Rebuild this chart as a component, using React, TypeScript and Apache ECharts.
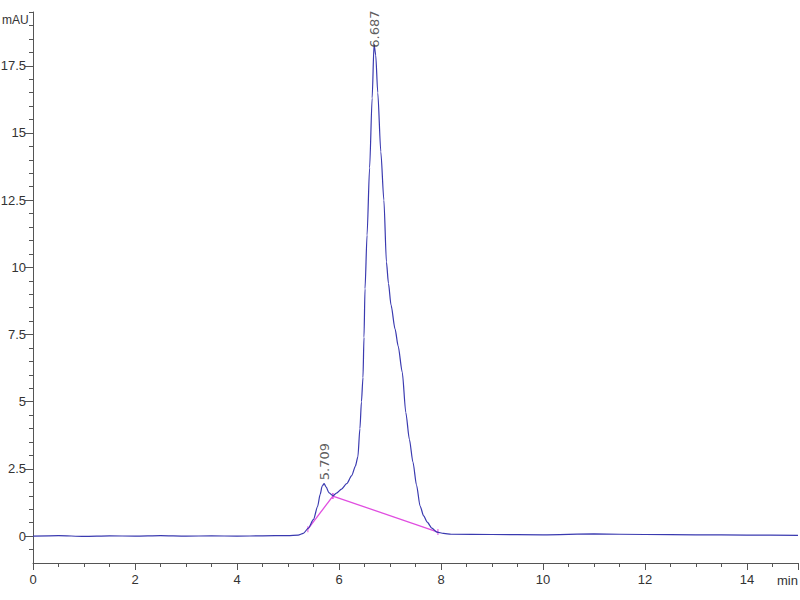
import React, { useEffect, useRef } from "react";
import * as echarts from "echarts";

// Chromatogram signal (time in min, absorbance in mAU)
const signal: [number, number][] = [
  [0, 0.0], [0.5, 0.02], [1, -0.01], [1.5, 0.01], [2, 0.0], [2.5, 0.02], [3, 0.0],
  [3.5, 0.01], [4, 0.0], [4.5, 0.01], [5.0, 0.02], [5.2, 0.04], [5.3, 0.1],
  [5.4, 0.3], [5.5, 0.62], [5.58, 1.1], [5.63, 1.55], [5.67, 1.86], [5.709, 1.95],
  [5.75, 1.82], [5.8, 1.62], [5.88, 1.5], [5.95, 1.6], [6.05, 1.75], [6.15, 1.95],
  [6.25, 2.25], [6.32, 2.6], [6.37, 2.95], [6.41, 4.0], [6.44, 5.0], [6.47, 5.9],
  [6.49, 7.4], [6.51, 9.2], [6.55, 11.2], [6.6, 13.7], [6.65, 16.3], [6.687, 18.3],
  [6.72, 17.9], [6.76, 16.5], [6.82, 14.3], [6.88, 12.5], [6.93, 10.2], [6.97, 9.4],
  [7.02, 8.6], [7.1, 7.7], [7.16, 7.07], [7.24, 6.1], [7.31, 4.6], [7.38, 3.6],
  [7.45, 2.75], [7.52, 1.9], [7.59, 1.12], [7.66, 0.75], [7.73, 0.52], [7.82, 0.3],
  [7.92, 0.15], [8.05, 0.1], [8.2, 0.07], [9, 0.06], [10, 0.05], [11, 0.08],
  [12, 0.06], [13, 0.05], [14, 0.04], [15, 0.03],
];

// Integration baselines
const baseline1: [number, number][] = [[5.39, 0.26], [5.88, 1.49]];
const baseline2: [number, number][] = [[5.88, 1.49], [7.94, 0.15]];

// Peak apexes (retention times)
const peaks: [number, number][] = [[5.709, 1.95], [6.687, 18.3]];
const peakLabelDistance = [3, -4];

const xMin = 0;
const xMax = 15;
const xInterval = 2;
const yMin = -1;
const yMax = 19.5;
const yLabelValues = [0, 2.5, 5, 7.5, 10, 12.5, 15, 17.5];

const FONT = "'Liberation Sans', Arial, sans-serif";

export default function App() {
  const ref = useRef<HTMLDivElement>(null);

  useEffect(() => {
    if (!ref.current) return;
    const chart = echarts.init(ref.current, undefined, { renderer: "svg" });

    const yMinorValues: number[] = [];
    for (let v = -0.5; v <= yMax + 1e-9; v += 0.5) yMinorValues.push(Math.round(v * 10) / 10);

    const axisColor = "#555";

    chart.setOption({
      animation: false,
      backgroundColor: "#ffffff",
      grid: {
        left: 33,
        right: 2,
        top: 12,
        bottom: 37,
        containLabel: false,
        outerBoundsMode: "none",
      },
      xAxis: {
        type: "value",
        min: xMin,
        max: xMax,
        interval: xInterval,
        axisLine: { show: true, onZero: false, lineStyle: { color: axisColor, width: 1 } },
        axisTick: { show: true, length: 7, lineStyle: { color: axisColor } },
        minorTick: { show: true, splitNumber: 4, length: 4, lineStyle: { color: axisColor } },
        splitLine: { show: false },
        axisLabel: {
          fontFamily: FONT,
          fontSize: 13,
          color: "#333",
          margin: 10,
          showMaxLabel: false,
        },
      },
      yAxis: [
        {
          type: "value",
          min: yMin,
          max: yMax,
          position: "left",
          axisLine: { show: true, onZero: false, lineStyle: { color: axisColor, width: 1 } },
          axisTick: { show: true, length: 8, customValues: yLabelValues, lineStyle: { color: axisColor } },
          splitLine: { show: false },
          axisLabel: {
            customValues: yLabelValues,
            fontFamily: FONT,
            fontSize: 13,
            color: "#333",
            margin: 7,
          },
        },
        {
          type: "value",
          min: yMin,
          max: yMax,
          position: "left",
          axisLine: { show: false },
          axisTick: { show: true, length: 4, customValues: yMinorValues, lineStyle: { color: axisColor } },
          splitLine: { show: false },
          axisLabel: { show: false },
        },
      ],
      graphic: [
        {
          type: "text",
          left: 2,
          top: 14,
          style: { text: "mAU", font: `12px ${FONT}`, fill: "#333" },
        },
        {
          type: "text",
          left: 777,
          top: 574,
          style: { text: "min", font: `13px ${FONT}`, fill: "#333" },
        },
      ],
      series: [
        {
          type: "line",
          data: baseline1,
          yAxisIndex: 0,
          showSymbol: true,
          symbol: "rect",
          symbolSize: [1, 6],
          itemStyle: { color: "#e04ee0" },
          lineStyle: { color: "#e04ee0", width: 1.3 },
          z: 2,
        },
        {
          type: "line",
          data: baseline2,
          yAxisIndex: 0,
          showSymbol: true,
          symbol: "rect",
          symbolSize: [1, 6],
          itemStyle: { color: "#e04ee0" },
          lineStyle: { color: "#e04ee0", width: 1.3 },
          z: 2,
        },
        {
          type: "line",
          data: signal,
          yAxisIndex: 0,
          showSymbol: false,
          smooth: 0.25,
          smoothMonotone: "x",
          lineStyle: { color: "#3a3ab0", width: 1.2 },
          z: 3,
        },
        {
          type: "scatter",
          data: peaks.map((p, i) => ({
            value: p,
            label: { distance: peakLabelDistance[i] },
          })),
          yAxisIndex: 0,
          symbolSize: 1,
          itemStyle: { color: "rgba(0,0,0,0)" },
          label: {
            show: true,
            position: "top",
            rotate: 90,
            align: "left",
            verticalAlign: "middle",
            fontFamily: "'DejaVu Sans', sans-serif",
            fontSize: 13,
            color: "#333",
            formatter: (p: any) => p.value[0].toFixed(3),
          },
          z: 4,
        },
      ],
    });

    return () => chart.dispose();
  }, []);

  return (
    <div
      ref={ref}
      style={{ position: "absolute", left: 0, top: 0, width: 800, height: 600 }}
    />
  );
}
